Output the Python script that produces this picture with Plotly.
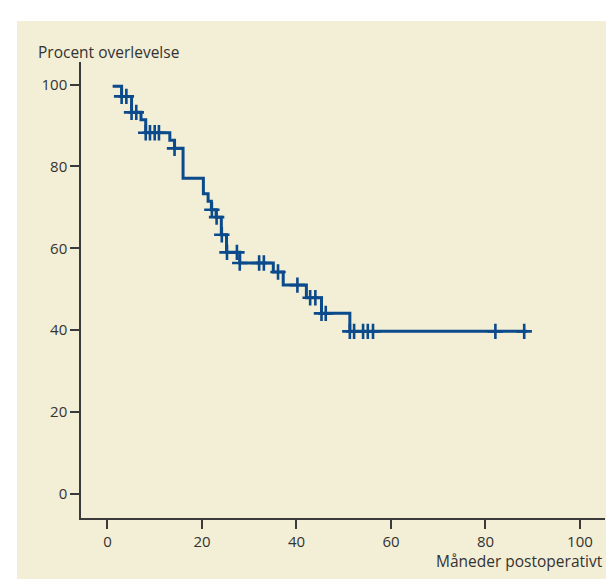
import numpy as np
import plotly.graph_objects as go

# ---- data ----
start_time = 1.1
start_surv = 99.6
event_times = [3.0, 5.1, 7.1, 8.1, 13.2, 14.2, 16.0, 20.3, 21.3, 22.0, 23.0, 24.1,
               25.2, 28.0, 35.1, 37.2, 42.1, 45.3, 51.3]
surv_after = [97.1, 93.2, 91.4, 88.2, 86.4, 84.4, 77.1, 73.3, 71.5, 69.4, 67.6, 63.3,
              59.0, 56.4, 54.2, 51.0, 47.9, 44.1, 39.7]
end_time = 88.8
censor_times = [3.0, 4.0, 5.1, 6.1, 8.1, 9.0, 10.0, 10.9, 14.2, 22.1, 23.1, 24.2,
                25.3, 27.4, 28.0, 32.1, 33.1, 36.1, 40.2, 42.9, 44.0, 45.3, 46.2,
                51.3, 52.2, 54.1, 55.1, 56.2, 82.1, 88.2]
x_ticks = [0, 20, 40, 60, 80, 100]
y_ticks = [0, 20, 40, 60, 80, 100]
y_title = "Procent overlevelse"
x_title = "Måneder postoperativt"

BLUE = "#0b4a8b"
TXT = "#333333"
BG = "#f3eed6"
FONT = "Open Sans, Noto Sans, sans-serif"

step_x = [start_time] + event_times + [end_time]
step_y = [start_surv] + surv_after + [surv_after[-1]]

ev = np.array(event_times)
sv = np.array(surv_after)
cens_y = []
for c in censor_times:
    i = np.searchsorted(ev, c, side="right")
    cens_y.append(start_surv if i == 0 else sv[i - 1])

fig = go.Figure()
fig.add_trace(go.Scatter(x=step_x, y=step_y, mode="lines", line=dict(shape="hv", color=BLUE, width=3),
                         hoverinfo="skip", showlegend=False))
fig.add_trace(go.Scatter(x=censor_times, y=cens_y, mode="markers",
                         marker=dict(symbol="cross-thin", size=11, line=dict(color=BLUE, width=2.6)),
                         showlegend=False))

L, R, T, B = 73, 17, 54, 69
W = 614 - L - R
H = 579 - T - B

def px_x(p):
    return (p - L) / W

def px_y(p):
    return (579 - B - p) / H

fig.add_shape(type="rect", xref="paper", yref="paper", x0=px_x(9), x1=px_x(640), y0=px_y(13), y1=px_y(600),
              fillcolor=BG, line=dict(width=0), layer="below")

fig.add_annotation(text=y_title, xref="paper", yref="paper", x=px_x(28), y=px_y(44),
                   xanchor="left", yanchor="middle", showarrow=False, font=dict(family=FONT, size=15.5, color=TXT))
fig.add_annotation(text=x_title, xref="paper", yref="paper", x=px_x(597), y=px_y(553),
                   xanchor="right", yanchor="middle", showarrow=False, font=dict(family=FONT, size=15.5, color=TXT))

fig.update_xaxes(range=[-5.6, 105.3], tickvals=x_ticks, ticks="outside", ticklen=9, tickwidth=1.5,
                 tickcolor="#3a3a3a", showline=True, linecolor="#3a3a3a", linewidth=1.5,
                 showgrid=False, zeroline=False, tickfont=dict(family=FONT, size=15, color=TXT))
fig.update_yaxes(range=[-5.9, 105.5], tickvals=y_ticks, ticks="outside", ticklen=9, tickwidth=1.5,
                 tickcolor="#3a3a3a", showline=True, linecolor="#3a3a3a", linewidth=1.5,
                 showgrid=False, zeroline=False, tickfont=dict(family=FONT, size=15, color=TXT))

fig.update_layout(width=614, height=579, margin=dict(l=L, r=R, t=T, b=B, pad=0),
                  paper_bgcolor="white", plot_bgcolor="rgba(0,0,0,0)", showlegend=False)

fig.write_html("out.html")
